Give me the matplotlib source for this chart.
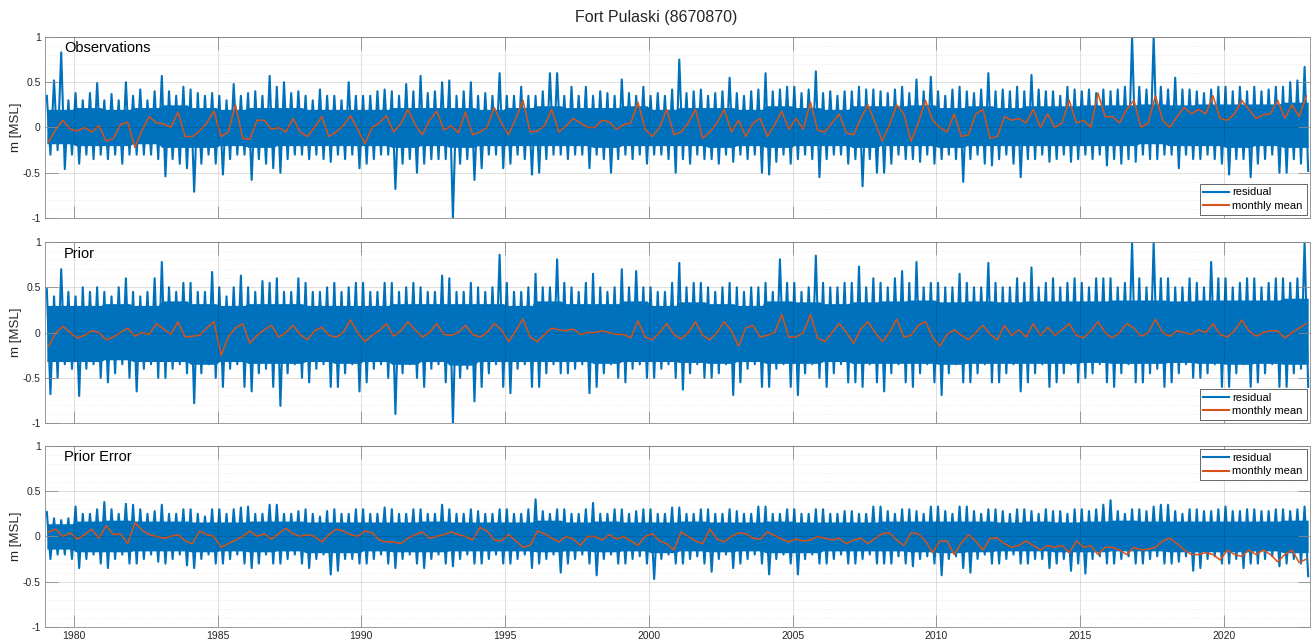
import numpy as np
import matplotlib
matplotlib.use("Agg")
import matplotlib.pyplot as plt
from matplotlib.ticker import MultipleLocator

plt.rcParams['font.family'] = ['Liberation Sans', 'DejaVu Sans']

# quarterly samples, 1979 Q1 .. 2022 Q4 (one row = two years)
# residual upper / lower envelope and monthly mean
obs_hi = [0.35, 0.52, 0.83, 0.30, 0.38, 0.30, 0.38, 0.49,
          0.30, 0.37, 0.30, 0.50, 0.35, 0.42, 0.30, 0.40,
          0.57, 0.40, 0.35, 0.45, 0.42, 0.38, 0.35, 0.38,
          0.35, 0.30, 0.48, 0.35, 0.38, 0.40, 0.35, 0.57,
          0.45, 0.50, 0.38, 0.40, 0.35, 0.30, 0.42, 0.35,
          0.35, 0.30, 0.50, 0.35, 0.35, 0.35, 0.40, 0.42,
          0.40, 0.35, 0.48, 0.40, 0.57, 0.38, 0.40, 0.50,
          0.52, 0.35, 0.40, 0.50, 0.35, 0.38, 0.35, 0.60,
          0.35, 0.35, 0.45, 0.35, 0.35, 0.40, 0.60, 0.60,
          0.35, 0.45, 0.35, 0.45, 0.35, 0.40, 0.38, 0.35,
          0.53, 0.38, 0.35, 0.45, 0.35, 0.38, 0.35, 0.42,
          0.75, 0.38, 0.40, 0.42, 0.35, 0.38, 0.40, 0.55,
          0.38, 0.35, 0.40, 0.42, 0.60, 0.40, 0.42, 0.45,
          0.45, 0.38, 0.42, 0.62, 0.38, 0.40, 0.35, 0.40,
          0.40, 0.45, 0.42, 0.42, 0.40, 0.38, 0.42, 0.45,
          0.38, 0.53, 0.40, 0.56, 0.40, 0.35, 0.42, 0.45,
          0.40, 0.38, 0.42, 0.60, 0.40, 0.42, 0.40, 0.45,
          0.40, 0.58, 0.42, 0.40, 0.40, 0.35, 0.45, 0.42,
          0.40, 0.42, 0.38, 0.42, 0.40, 0.42, 0.45, 1.00,
          0.45, 0.42, 1.00, 0.45, 0.42, 0.55, 0.42, 0.42,
          0.40, 0.38, 0.42, 0.45, 0.45, 0.40, 0.45, 0.40,
          0.45, 0.40, 0.42, 0.45, 0.45, 0.50, 0.52, 0.67]
obs_lo = [-0.30, -0.25, -0.46, -0.30, -0.40, -0.30, -0.35, -0.30,
          -0.35, -0.30, -0.40, -0.30, -0.30, -0.30, -0.30, -0.35,
          -0.54, -0.35, -0.40, -0.45, -0.71, -0.40, -0.30, -0.40,
          -0.52, -0.35, -0.30, -0.30, -0.58, -0.35, -0.40, -0.45,
          -0.50, -0.35, -0.30, -0.30, -0.35, -0.30, -0.35, -0.38,
          -0.30, -0.35, -0.30, -0.45, -0.40, -0.35, -0.30, -0.30,
          -0.68, -0.40, -0.35, -0.50, -0.40, -0.35, -0.35, -0.35,
          -1.00, -0.40, -0.35, -0.58, -0.45, -0.30, -0.30, -0.45,
          -0.40, -0.30, -0.35, -0.52, -0.50, -0.35, -0.30, -0.30,
          -0.35, -0.30, -0.30, -0.45, -0.30, -0.35, -0.50, -0.35,
          -0.30, -0.35, -0.30, -0.40, -0.30, -0.30, -0.35, -0.50,
          -0.35, -0.40, -0.30, -0.35, -0.35, -0.40, -0.30, -0.38,
          -0.30, -0.35, -0.30, -0.50, -0.52, -0.38, -0.30, -0.40,
          -0.35, -0.30, -0.35, -0.55, -0.35, -0.30, -0.30, -0.40,
          -0.35, -0.65, -0.35, -0.50, -0.50, -0.40, -0.30, -0.35,
          -0.35, -0.38, -0.30, -0.40, -0.35, -0.30, -0.35, -0.60,
          -0.35, -0.30, -0.40, -0.42, -0.35, -0.30, -0.40, -0.55,
          -0.35, -0.35, -0.30, -0.38, -0.35, -0.30, -0.38, -0.35,
          -0.30, -0.35, -0.30, -0.42, -0.35, -0.40, -0.35, -0.38,
          -0.30, -0.35, -0.35, -0.30, -0.30, -0.45, -0.30, -0.35,
          -0.35, -0.30, -0.35, -0.40, -0.52, -0.35, -0.35, -0.55,
          -0.40, -0.35, -0.30, -0.50, -0.50, -0.35, -0.40, -0.48]
obs_mean = [-0.16, -0.02, 0.08, -0.02, -0.04, 0.00, -0.05, 0.02,
            -0.15, -0.12, 0.03, 0.06, -0.22, -0.03, 0.12, 0.05,
            0.04, 0.00, 0.17, -0.10, -0.10, -0.04, 0.05, 0.18,
            -0.10, -0.05, 0.25, -0.12, -0.13, 0.08, 0.08, -0.02,
            0.00, -0.05, 0.10, -0.05, -0.10, 0.00, 0.12, -0.10,
            -0.05, 0.02, 0.13, -0.02, -0.18, 0.00, 0.05, 0.13,
            -0.05, 0.04, 0.20, 0.03, -0.08, 0.08, 0.18, -0.03,
            0.02, -0.06, 0.17, -0.08, -0.05, 0.00, 0.22, 0.05,
            -0.08, 0.10, 0.30, -0.05, -0.04, 0.02, 0.20, -0.05,
            0.02, 0.10, 0.05, 0.00, 0.00, 0.08, 0.06, -0.02,
            0.03, 0.05, 0.28, -0.02, -0.10, 0.00, 0.20, -0.08,
            -0.05, 0.05, 0.20, -0.12, -0.05, 0.05, 0.20, -0.05,
            0.08, -0.10, 0.05, 0.10, -0.10, 0.03, 0.18, -0.02,
            0.10, -0.02, 0.28, -0.03, -0.05, 0.05, 0.15, -0.06,
            -0.08, 0.10, 0.25, 0.05, -0.15, 0.03, 0.25, 0.15,
            -0.15, 0.05, 0.30, 0.08, 0.00, -0.05, 0.15, -0.10,
            -0.08, 0.15, 0.20, -0.12, -0.10, 0.12, 0.08, 0.10,
            0.05, 0.20, 0.00, 0.15, 0.00, 0.05, 0.30, 0.05,
            0.08, 0.00, 0.38, 0.12, 0.12, 0.05, 0.20, 0.30,
            0.00, 0.05, 0.35, 0.08, 0.00, 0.12, 0.22, 0.15,
            0.20, 0.15, 0.35, 0.10, 0.08, 0.15, 0.30, 0.20,
            0.10, 0.14, 0.15, 0.30, 0.10, 0.25, 0.12, 0.35]

prior_hi = [0.48, 0.40, 0.70, 0.45, 0.40, 0.50, 0.45, 0.50,
            0.45, 0.40, 0.50, 0.60, 0.45, 0.40, 0.45, 0.60,
            0.78, 0.50, 0.45, 0.55, 0.55, 0.45, 0.45, 0.67,
            0.50, 0.40, 0.50, 0.63, 0.50, 0.45, 0.57, 0.55,
            0.60, 0.45, 0.45, 0.60, 0.55, 0.45, 0.45, 0.50,
            0.55, 0.45, 0.50, 0.55, 0.55, 0.45, 0.45, 0.55,
            0.55, 0.45, 0.50, 0.55, 0.50, 0.45, 0.45, 0.63,
            0.60, 0.45, 0.45, 0.55, 0.50, 0.45, 0.50, 0.86,
            0.55, 0.45, 0.45, 0.50, 0.65, 0.50, 0.50, 0.81,
            0.55, 0.50, 0.45, 0.55, 0.65, 0.50, 0.45, 0.50,
            0.70, 0.50, 0.68, 0.50, 0.50, 0.45, 0.45, 0.55,
            0.77, 0.50, 0.55, 0.55, 0.50, 0.45, 0.50, 0.55,
            0.50, 0.45, 0.50, 0.50, 0.55, 0.45, 0.81, 0.55,
            0.55, 0.45, 0.50, 0.85, 0.55, 0.50, 0.50, 0.55,
            0.55, 0.73, 0.50, 0.60, 0.55, 0.50, 0.60, 0.68,
            0.55, 0.78, 0.50, 0.55, 0.55, 0.50, 0.50, 0.65,
            0.55, 0.50, 0.50, 0.77, 0.55, 0.50, 0.50, 0.60,
            0.55, 0.72, 0.50, 0.55, 0.60, 0.50, 0.55, 0.60,
            0.55, 0.50, 0.60, 0.60, 0.60, 0.50, 0.55, 1.00,
            0.60, 0.50, 1.00, 0.60, 0.60, 0.50, 0.50, 0.60,
            0.55, 0.50, 0.78, 0.60, 0.60, 0.50, 0.55, 0.60,
            0.60, 0.50, 0.55, 0.60, 0.60, 0.55, 0.60, 1.00]
prior_lo = [-0.68, -0.50, -0.35, -0.40, -0.70, -0.40, -0.35, -0.50,
            -0.55, -0.45, -0.35, -0.50, -0.65, -0.40, -0.35, -0.50,
            -0.50, -0.40, -0.35, -0.45, -0.78, -0.45, -0.35, -0.50,
            -0.60, -0.40, -0.35, -0.60, -0.65, -0.45, -0.40, -0.60,
            -0.81, -0.45, -0.35, -0.50, -0.55, -0.40, -0.35, -0.60,
            -0.60, -0.45, -0.35, -0.65, -0.55, -0.40, -0.35, -0.50,
            -0.90, -0.45, -0.35, -0.50, -0.60, -0.40, -0.35, -0.55,
            -1.00, -0.50, -0.40, -0.76, -0.60, -0.45, -0.35, -0.60,
            -0.67, -0.40, -0.35, -0.60, -0.60, -0.45, -0.35, -0.45,
            -0.45, -0.40, -0.35, -0.67, -0.60, -0.45, -0.35, -0.50,
            -0.55, -0.40, -0.35, -0.50, -0.50, -0.40, -0.35, -0.50,
            -0.63, -0.45, -0.35, -0.50, -0.50, -0.45, -0.35, -0.69,
            -0.55, -0.40, -0.35, -0.60, -0.60, -0.40, -0.35, -0.60,
            -0.69, -0.45, -0.35, -0.50, -0.60, -0.45, -0.35, -0.55,
            -0.55, -0.60, -0.35, -0.55, -0.65, -0.45, -0.35, -0.55,
            -0.60, -0.45, -0.35, -0.55, -0.69, -0.45, -0.35, -0.55,
            -0.55, -0.45, -0.35, -0.55, -0.55, -0.45, -0.35, -0.65,
            -0.55, -0.45, -0.35, -0.60, -0.55, -0.45, -0.35, -0.55,
            -0.50, -0.45, -0.35, -0.55, -0.60, -0.45, -0.35, -0.55,
            -0.55, -0.45, -0.40, -0.60, -0.55, -0.45, -0.35, -0.50,
            -0.50, -0.45, -0.35, -0.60, -0.60, -0.45, -0.35, -0.60,
            -0.55, -0.45, -0.35, -0.60, -0.60, -0.45, -0.40, -0.60]
prior_mean = [-0.15, 0.00, 0.07, 0.00, -0.06, -0.03, 0.02, 0.00,
              -0.08, -0.05, 0.00, 0.05, -0.04, 0.00, -0.02, 0.10,
              0.04, -0.02, 0.12, -0.05, -0.04, -0.03, 0.05, 0.12,
              -0.25, -0.05, 0.05, 0.10, -0.12, -0.03, 0.03, 0.08,
              -0.05, 0.00, 0.08, -0.02, -0.08, 0.02, 0.06, -0.03,
              -0.05, 0.00, 0.14, 0.00, -0.10, -0.03, 0.02, 0.10,
              -0.04, 0.02, 0.12, 0.03, -0.05, 0.00, 0.10, -0.02,
              -0.03, 0.00, 0.08, -0.02, -0.05, 0.00, 0.10, 0.03,
              -0.10, 0.02, 0.15, -0.05, -0.10, -0.02, 0.05, 0.03,
              0.02, 0.04, -0.02, 0.00, 0.00, 0.02, 0.00, -0.02,
              -0.02, -0.06, 0.13, -0.05, -0.08, 0.00, 0.10, -0.02,
              -0.07, 0.00, 0.12, -0.03, -0.08, 0.00, 0.12, 0.02,
              -0.15, 0.05, 0.08, -0.05, -0.03, 0.00, 0.20, -0.05,
              -0.05, 0.00, 0.20, -0.06, -0.10, 0.00, 0.10, 0.00,
              -0.12, 0.04, 0.12, 0.00, -0.10, 0.00, 0.15, -0.05,
              -0.03, 0.08, 0.12, -0.05, -0.15, -0.02, 0.03, -0.03,
              -0.08, 0.00, 0.08, -0.02, -0.08, 0.08, -0.03, 0.03,
              -0.05, 0.10, -0.03, 0.06, -0.03, 0.03, 0.10, -0.03,
              -0.06, 0.02, 0.12, 0.00, -0.06, 0.00, 0.10, 0.05,
              -0.04, 0.00, 0.15, 0.00, -0.04, 0.02, 0.00, -0.02,
              0.03, 0.00, 0.10, -0.02, -0.05, 0.02, 0.14, 0.02,
              -0.04, 0.00, 0.02, 0.02, -0.06, 0.00, 0.05, 0.10]

err_hi = [0.27, 0.20, 0.18, 0.20, 0.33, 0.25, 0.25, 0.30,
          0.38, 0.30, 0.25, 0.36, 0.35, 0.30, 0.25, 0.28,
          0.35, 0.25, 0.25, 0.30, 0.30, 0.25, 0.22, 0.30,
          0.30, 0.25, 0.30, 0.32, 0.33, 0.25, 0.25, 0.35,
          0.35, 0.25, 0.25, 0.28, 0.30, 0.25, 0.22, 0.28,
          0.30, 0.25, 0.25, 0.30, 0.30, 0.25, 0.25, 0.32,
          0.30, 0.25, 0.25, 0.30, 0.30, 0.25, 0.25, 0.35,
          0.30, 0.25, 0.25, 0.30, 0.28, 0.25, 0.25, 0.30,
          0.30, 0.25, 0.25, 0.30, 0.41, 0.28, 0.25, 0.30,
          0.30, 0.25, 0.25, 0.30, 0.37, 0.25, 0.25, 0.30,
          0.30, 0.25, 0.28, 0.30, 0.30, 0.25, 0.25, 0.32,
          0.32, 0.25, 0.25, 0.30, 0.30, 0.25, 0.25, 0.30,
          0.28, 0.25, 0.25, 0.33, 0.33, 0.25, 0.25, 0.30,
          0.30, 0.25, 0.25, 0.30, 0.30, 0.25, 0.25, 0.28,
          0.28, 0.25, 0.25, 0.33, 0.33, 0.28, 0.25, 0.30,
          0.30, 0.28, 0.25, 0.33, 0.33, 0.28, 0.25, 0.33,
          0.33, 0.28, 0.25, 0.30, 0.30, 0.28, 0.25, 0.30,
          0.30, 0.28, 0.25, 0.30, 0.28, 0.28, 0.25, 0.30,
          0.30, 0.28, 0.30, 0.35, 0.40, 0.28, 0.25, 0.30,
          0.30, 0.28, 0.33, 0.35, 0.35, 0.28, 0.25, 0.30,
          0.30, 0.28, 0.28, 0.30, 0.33, 0.28, 0.28, 0.30,
          0.30, 0.28, 0.28, 0.30, 0.30, 0.28, 0.30, 0.33]
err_lo = [-0.25, -0.20, -0.20, -0.25, -0.35, -0.25, -0.20, -0.30,
          -0.35, -0.25, -0.20, -0.30, -0.30, -0.25, -0.20, -0.28,
          -0.30, -0.25, -0.20, -0.32, -0.35, -0.25, -0.20, -0.30,
          -0.30, -0.25, -0.20, -0.30, -0.35, -0.30, -0.20, -0.30,
          -0.30, -0.25, -0.20, -0.30, -0.35, -0.25, -0.20, -0.42,
          -0.38, -0.25, -0.25, -0.30, -0.30, -0.25, -0.20, -0.30,
          -0.35, -0.25, -0.20, -0.30, -0.35, -0.25, -0.20, -0.30,
          -0.33, -0.25, -0.20, -0.30, -0.30, -0.25, -0.20, -0.30,
          -0.30, -0.25, -0.20, -0.35, -0.30, -0.25, -0.20, -0.40,
          -0.30, -0.25, -0.20, -0.30, -0.43, -0.25, -0.20, -0.30,
          -0.30, -0.25, -0.22, -0.30, -0.47, -0.25, -0.20, -0.30,
          -0.30, -0.25, -0.22, -0.30, -0.39, -0.25, -0.20, -0.35,
          -0.30, -0.25, -0.20, -0.30, -0.42, -0.25, -0.20, -0.30,
          -0.42, -0.25, -0.20, -0.30, -0.30, -0.25, -0.20, -0.30,
          -0.30, -0.25, -0.20, -0.30, -0.30, -0.30, -0.22, -0.30,
          -0.33, -0.25, -0.22, -0.30, -0.43, -0.25, -0.22, -0.35,
          -0.40, -0.25, -0.20, -0.30, -0.30, -0.25, -0.20, -0.30,
          -0.30, -0.25, -0.25, -0.35, -0.30, -0.25, -0.38, -0.30,
          -0.41, -0.25, -0.22, -0.30, -0.30, -0.25, -0.22, -0.30,
          -0.30, -0.25, -0.22, -0.30, -0.30, -0.28, -0.22, -0.38,
          -0.35, -0.25, -0.22, -0.30, -0.30, -0.25, -0.35, -0.30,
          -0.30, -0.25, -0.22, -0.33, -0.30, -0.25, -0.30, -0.44]
err_mean = [0.05, 0.08, 0.00, 0.04, -0.03, 0.02, 0.08, -0.02,
            0.12, 0.02, 0.03, -0.08, 0.15, 0.07, 0.02, 0.00,
            -0.02, 0.00, 0.02, -0.05, -0.08, 0.06, 0.02, 0.00,
            -0.12, -0.08, -0.04, 0.00, 0.06, 0.00, 0.03, -0.03,
            0.03, 0.09, 0.03, 0.00, 0.02, 0.00, -0.06, 0.02,
            0.08, 0.06, 0.02, 0.00, 0.06, 0.04, -0.04, -0.06,
            -0.06, -0.08, -0.02, 0.02, 0.05, -0.02, 0.00, 0.02,
            0.05, 0.02, 0.00, -0.04, 0.10, 0.06, -0.04, -0.05,
            0.02, -0.05, -0.12, -0.10, 0.06, 0.03, -0.02, -0.06,
            0.00, -0.03, -0.10, 0.00, 0.00, -0.04, 0.02, -0.03,
            0.00, -0.05, -0.10, 0.00, 0.03, -0.05, -0.08, -0.15,
            0.05, 0.00, -0.05, -0.08, 0.08, -0.03, -0.06, 0.00,
            0.04, 0.03, -0.02, -0.03, 0.05, 0.01, -0.03, -0.06,
            -0.03, -0.05, -0.04, 0.00, -0.02, -0.04, -0.02, -0.08,
            -0.04, -0.02, -0.08, -0.02, 0.03, 0.04, -0.04, -0.10,
            0.04, 0.03, -0.05, -0.18, -0.05, -0.05, -0.20, -0.07,
            0.02, -0.05, -0.15, -0.02, -0.02, -0.08, -0.12, -0.10,
            -0.05, -0.10, -0.15, -0.10, -0.12, -0.10, -0.18, -0.05,
            -0.12, -0.10, -0.20, -0.12, -0.12, -0.15, -0.20, -0.12,
            -0.15, -0.14, -0.12, -0.05, -0.02, -0.08, -0.15, -0.20,
            -0.20, -0.18, -0.20, -0.26, -0.15, -0.20, -0.22, -0.15,
            -0.20, -0.15, -0.20, -0.28, -0.20, -0.15, -0.29, -0.25]

# yearly limits of the dense, solid part of the residual band (1979 .. 2022)
obs_core_hi = [0.20, 0.22, 0.20, 0.22, 0.25, 0.22, 0.20, 0.22, 0.22, 0.20, 0.20,
               0.20, 0.22, 0.22, 0.22, 0.20, 0.22, 0.24, 0.22, 0.22, 0.24, 0.20,
               0.22, 0.22, 0.20, 0.24, 0.22, 0.20, 0.24, 0.24, 0.25, 0.22, 0.24,
               0.22, 0.24, 0.24, 0.25, 0.25, 0.26, 0.25, 0.26, 0.26, 0.26, 0.28]
obs_core_lo = [-0.18, -0.20, -0.20, -0.18, -0.22, -0.22, -0.20, -0.22, -0.20, -0.20, -0.20,
               -0.20, -0.22, -0.20, -0.22, -0.20, -0.20, -0.20, -0.20, -0.22, -0.20, -0.20,
               -0.20, -0.22, -0.20, -0.22, -0.20, -0.20, -0.22, -0.20, -0.20, -0.22, -0.20,
               -0.20, -0.20, -0.20, -0.20, -0.20, -0.18, -0.20, -0.20, -0.22, -0.20, -0.22]
prior_core_hi = [0.30, 0.30, 0.32, 0.30, 0.35, 0.32, 0.30, 0.32, 0.32, 0.30, 0.30,
                 0.30, 0.32, 0.32, 0.32, 0.32, 0.30, 0.35, 0.32, 0.32, 0.35, 0.30,
                 0.34, 0.32, 0.30, 0.35, 0.34, 0.32, 0.34, 0.35, 0.36, 0.34, 0.35,
                 0.34, 0.35, 0.35, 0.35, 0.36, 0.36, 0.35, 0.36, 0.36, 0.36, 0.38]
prior_core_lo = [-0.32, -0.32, -0.30, -0.32, -0.32, -0.35, -0.32, -0.34, -0.34, -0.32, -0.34,
                 -0.32, -0.35, -0.32, -0.36, -0.32, -0.32, -0.32, -0.32, -0.34, -0.32, -0.32,
                 -0.33, -0.34, -0.32, -0.34, -0.34, -0.32, -0.34, -0.34, -0.34, -0.35, -0.34,
                 -0.34, -0.34, -0.34, -0.33, -0.34, -0.34, -0.33, -0.34, -0.35, -0.34, -0.35]
err_core_hi = [0.14, 0.17, 0.18, 0.17, 0.17, 0.16, 0.16, 0.17, 0.17, 0.16, 0.16,
               0.16, 0.16, 0.17, 0.16, 0.16, 0.16, 0.18, 0.16, 0.17, 0.16, 0.16,
               0.17, 0.16, 0.16, 0.17, 0.16, 0.16, 0.16, 0.17, 0.17, 0.17, 0.17,
               0.16, 0.17, 0.16, 0.17, 0.18, 0.17, 0.17, 0.17, 0.17, 0.17, 0.18]
err_core_lo = [-0.14, -0.17, -0.17, -0.16, -0.16, -0.17, -0.16, -0.17, -0.16, -0.18, -0.18,
               -0.16, -0.17, -0.17, -0.16, -0.16, -0.16, -0.17, -0.16, -0.17, -0.16, -0.18,
               -0.16, -0.17, -0.16, -0.18, -0.18, -0.16, -0.16, -0.16, -0.17, -0.18, -0.17,
               -0.16, -0.16, -0.17, -0.17, -0.16, -0.16, -0.17, -0.17, -0.17, -0.16, -0.18]

panels = [("Observations", obs_hi, obs_lo, obs_mean, obs_core_hi, obs_core_lo, 'lower right'),
          ("Prior", prior_hi, prior_lo, prior_mean, prior_core_hi, prior_core_lo, 'lower right'),
          ("Prior Error", err_hi, err_lo, err_mean, err_core_hi, err_core_lo, 'upper right')]

start_year = 1979
blue = '#0072BD'
orange = '#D95319'

fig = plt.figure(figsize=(13.13, 6.43), dpi=100)
bottoms = [0.661, 0.342, 0.025]

for k, (name, hi, lo, mean, c_hi, c_lo, loc) in enumerate(panels):
    ax = fig.add_axes([0.0343, bottoms[k], 0.9634, 0.2815])
    n = len(hi)
    tq = start_year + np.arange(n) / 4.0
    # residual drawn as up/down swings inside each quarter
    tx = np.column_stack([tq + 0.0625, tq + 0.1875]).ravel()
    ty = np.column_stack([hi, lo]).ravel()
    ax.fill_between(tx, np.repeat(c_lo, 8), np.repeat(c_hi, 8), color=blue, lw=0)
    ax.plot(tx, ty, color=blue, lw=1.5, label='residual')
    ax.plot(tq + 0.125, mean, color=orange, lw=1.1, label='monthly mean')

    ax.set_xlim(1979.0, 2023.0)
    ax.set_ylim(-1, 1)
    ax.set_xticks(range(1980, 2021, 5))
    ax.set_yticks([-1, -0.5, 0, 0.5, 1])
    ax.set_yticklabels(['-1', '-0.5', '0', '0.5', '1'])
    ax.yaxis.set_minor_locator(MultipleLocator(0.1))
    if k < 2:
        ax.set_xticklabels([])
    ax.tick_params(which='major', direction='in', length=9, width=0.6, top=True, right=True,
                   labelsize=7.5, color='0.55', labelcolor='0.15', pad=3)
    ax.tick_params(which='minor', length=0)
    ax.set_axisbelow(False)
    ax.grid(True, which='major', color='k', alpha=0.15, lw=0.6)
    ax.grid(True, which='minor', axis='y', color='k', alpha=0.1, lw=0.5, ls=':')
    for s in ax.spines.values():
        s.set_color('0.6')
        s.set_linewidth(0.7)
    ax.set_ylabel('m [MSL]', fontsize=9.5, color='0.15', labelpad=0.5)
    ax.text(0.015, 0.975, name, transform=ax.transAxes, fontsize=10.5,
            va='top', ha='left')
    leg = ax.legend(loc=loc, fontsize=8, fancybox=False, framealpha=1,
                    edgecolor='0.3', borderpad=0.35, handlelength=2.3,
                    labelspacing=0.3, handletextpad=0.3, borderaxespad=0.3)
    leg.get_frame().set_linewidth(0.6)
    for h in leg.get_lines():
        h.set_linewidth(1.5)

fig.suptitle('Fort Pulaski (8670870)', fontsize=11.5, y=0.985, color='0.15')
fig.savefig('out.png', dpi=100)
